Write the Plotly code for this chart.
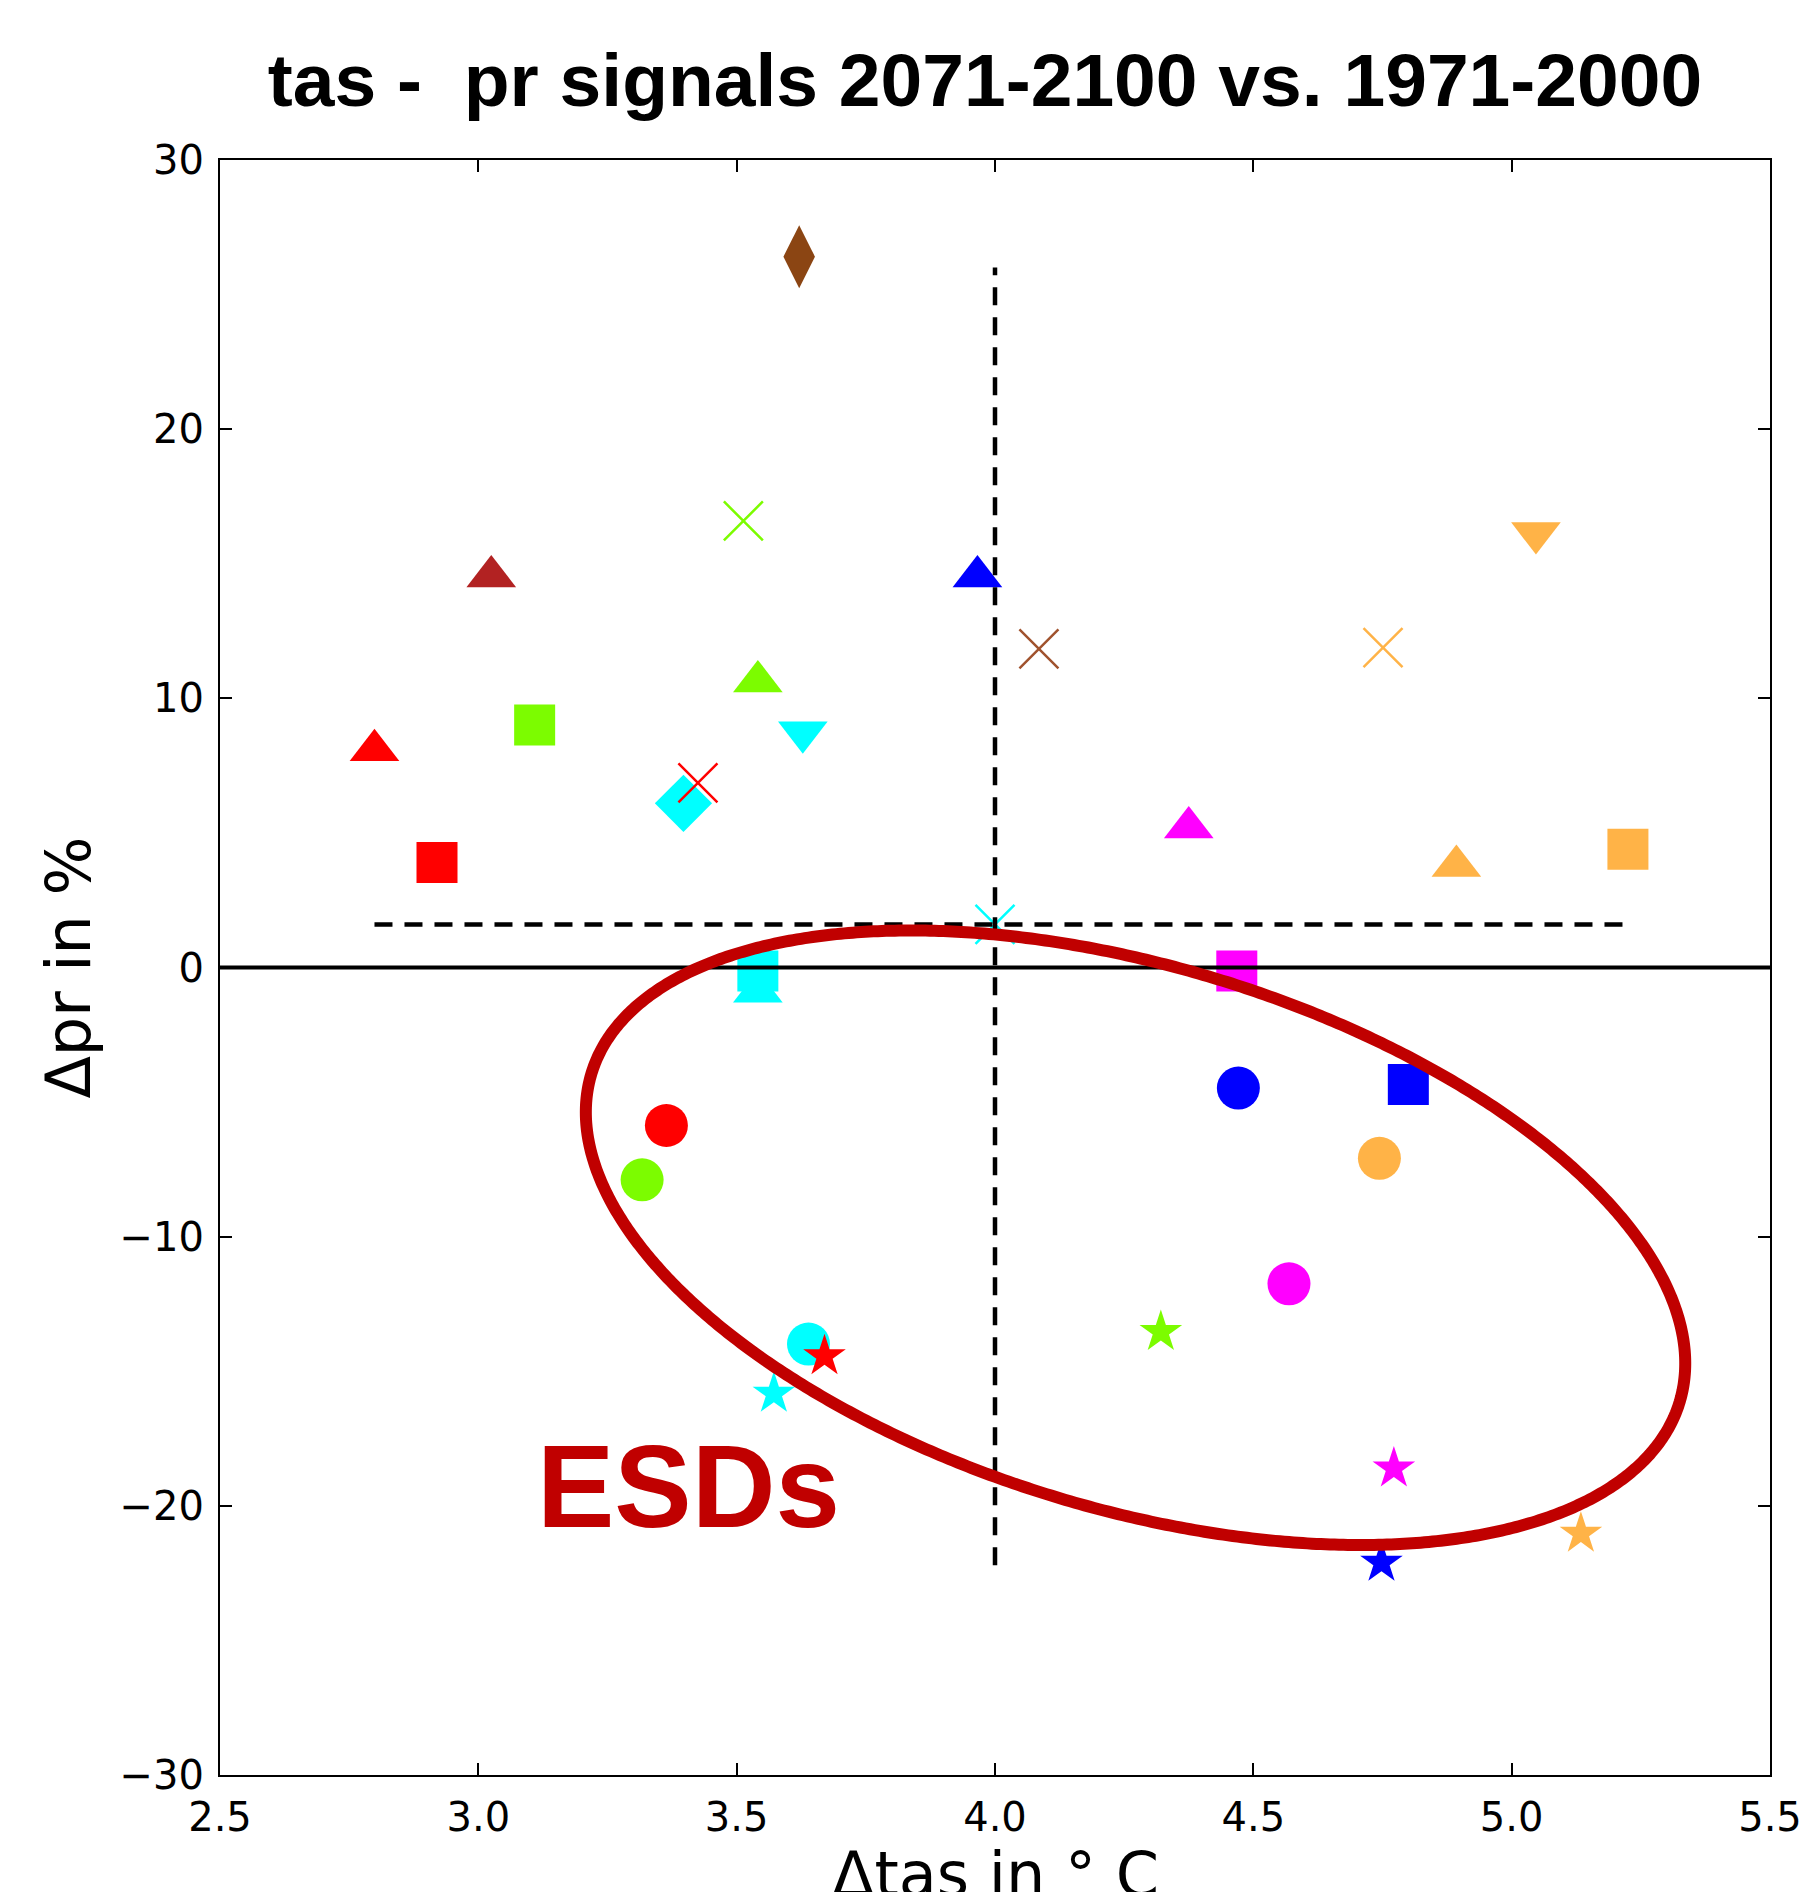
import numpy as np
import plotly.graph_objects as go

# ---------------- data ----------------
circ_x = [3.364, 3.317, 4.471, 4.744, 4.569, 3.639]
circ_y = [-5.87, -7.89, -4.48, -7.09, -11.75, -13.99]
circ_c = ["#FF0000", "#7CFC00", "#0000FF", "#FFB347", "#FF00FF", "#00FFFF"]

sq_x = [2.920, 3.109, 5.225, 4.468, 3.541, 4.800]
sq_y = [3.90, 9.01, 4.39, -0.13, -0.13, -4.35]
sq_c = ["#FF0000", "#7CFC00", "#FFB347", "#FF00FF", "#00FFFF", "#0000FF"]

tu_x = [2.799, 3.025, 3.966, 3.541, 4.375, 4.893, 3.541]
tu_y = [8.07, 14.53, 14.53, 10.63, 5.20, 3.77, -0.90]
tu_c = ["#FF0000", "#B22222", "#0000FF", "#7CFC00", "#FF00FF", "#FFB347", "#00FFFF"]

td_x = [3.628, 5.047]
td_y = [8.74, 16.14]
td_c = ["#00FFFF", "#FFB347"]

star_x = [4.321, 3.670, 3.572, 4.772, 5.134, 4.748]
star_y = [-13.54, -14.44, -15.83, -18.61, -21.03, -22.11]
star_c = ["#7CFC00", "#FF0000", "#00FFFF", "#FF00FF", "#FFB347", "#0000FF"]

cross_x = [3.513, 4.085, 4.751, 3.425]
cross_y = [16.59, 11.84, 11.88, 6.86]
cross_c = ["#7CFC00", "#A0522D", "#FFB347", "#FF0000"]

dthin_x = [3.621]
dthin_y = [26.41]
dthin_c = ["#8B4513"]

dsq_x = [3.397]
dsq_y = [6.10]
dsq_c = ["#00FFFF"]

# ensemble mean (cyan cross at the centre of the dashed lines)
mean_x = [4.00]
mean_y = [1.60]

x_ticks = [2.5, 3.0, 3.5, 4.0, 4.5, 5.0, 5.5]
y_ticks = [-30, -20, -10, 0, 10, 20, 30]

# ellipse that marks the ESDs group (data units, major/minor in x-units)
ell_cx, ell_cy, ell_a, ell_b, ell_angle = 4.272, -10.04, 1.10, 0.525, 16.8

# ---------------- layout geometry ----------------
W, H = 1800, 1892
ML, MR, MT, MB = 220, 30, 160, 117
xr = [2.5, 5.5]
yr = [-30, 30]
pw, ph = W - ML - MR, H - MT - MB
px_per_x = pw / (xr[1] - xr[0])
px_per_y = ph / (yr[1] - yr[0])

fig = go.Figure()

def add_filled(x, y, c, symbol, size):
    fig.add_trace(go.Scatter(x=x, y=y, mode="markers", showlegend=False,
                             marker=dict(symbol=symbol, size=size, color=c,
                                         line=dict(width=0))))

# draw order similar to the original
add_filled(tu_x, tu_y, tu_c, "triangle-up", 43)
add_filled(sq_x, sq_y, sq_c, "square", 41)
add_filled(td_x, td_y, td_c, "triangle-down", 43)
add_filled(circ_x, circ_y, circ_c, "circle", 43)
add_filled(dthin_x, dthin_y, dthin_c, "diamond-tall", 45)
add_filled(dsq_x, dsq_y, dsq_c, "diamond", 44)
add_filled(star_x, star_y, star_c, "star", 32)
fig.add_trace(go.Scatter(x=cross_x, y=cross_y, mode="markers", showlegend=False,
                         marker=dict(symbol="x-thin-open", size=39, color=cross_c,
                                     line=dict(width=2.5, color=cross_c))))
fig.add_trace(go.Scatter(x=mean_x, y=mean_y, mode="markers", showlegend=False,
                         marker=dict(symbol="x-thin-open", size=39, color="#00FFFF",
                                     line=dict(width=2.5, color="#00FFFF"))))

# ranges through the ensemble mean
all_x = circ_x + sq_x + tu_x + td_x + star_x + cross_x + dthin_x + dsq_x
all_y = circ_y + sq_y + tu_y + td_y + star_y + cross_y + dthin_y + dsq_y
dash = "18px,12px"
fig.add_trace(go.Scatter(x=[min(all_x), max(all_x)], y=[mean_y[0], mean_y[0]],
                         mode="lines", showlegend=False,
                         line=dict(color="black", width=4.5, dash=dash)))
fig.add_trace(go.Scatter(x=[mean_x[0], mean_x[0]], y=[min(all_y) - 0.1, max(all_y) - 0.4],
                         mode="lines", showlegend=False,
                         line=dict(color="black", width=4.5, dash=dash)))
# zero line
fig.add_trace(go.Scatter(x=xr, y=[0, 0], mode="lines", showlegend=False,
                         line=dict(color="black", width=4)))

# ellipse (computed in screen-proportional space)
t = np.linspace(0, 2 * np.pi, 720)
th = np.deg2rad(ell_angle)
ratio = px_per_x / px_per_y
ex = ell_cx + ell_a * np.cos(th) * np.cos(t) - ell_b * np.sin(th) * np.sin(t)
ey = ell_cy - ratio * (ell_a * np.sin(th) * np.cos(t) + ell_b * np.cos(th) * np.sin(t))
fig.add_trace(go.Scatter(x=ex, y=ey, mode="lines", showlegend=False,
                         line=dict(color="#C00000", width=12, simplify=False)))

fig.add_annotation(x=3.109, y=-19.3, xref="x", yref="y", text="<b>ESDs</b>",
                   showarrow=False, xanchor="left", yanchor="middle",
                   font=dict(family="Liberation Sans, Arial", size=116, color="#C00000"))

# axis titles as annotations
fig.add_annotation(x=-0.098, y=0.5, xref="paper", yref="paper", text="Δpr in %",
                   textangle=-90, showarrow=False, xanchor="center", yanchor="middle",
                   font=dict(family="DejaVu Sans", size=62, color="black"))
fig.add_annotation(x=0.5, y=-0.038, xref="paper", yref="paper", text="Δtas in \u00b0 C",
                   showarrow=False, xanchor="center", yanchor="top",
                   font=dict(family="DejaVu Sans", size=62, color="black"))

axis_common = dict(showgrid=False, zeroline=False, showline=True, linecolor="black",
                   linewidth=2, mirror="ticks", ticks="inside", ticklen=12,
                   tickwidth=1.5, tickcolor="black", ticklabeloverflow="allow",
                   automargin=False,
                   tickfont=dict(family="DejaVu Sans", size=40, color="black"))

fig.update_layout(
    width=W, height=H,
    margin=dict(l=ML, r=MR, t=MT, b=MB, autoexpand=False),
    paper_bgcolor="white", plot_bgcolor="white",
    title=dict(text="<b>tas -\u00a0\u00a0pr signals 2071-2100 vs. 1971-2000</b>",
               x=985 / W, xanchor="center", y=1 - 80 / H, yanchor="middle",
               font=dict(family="Liberation Sans, Arial", size=75, color="black")),
    xaxis=dict(range=xr, tickvals=x_ticks, ticktext=[f"{v:.1f}" for v in x_ticks],
               ticklabelstandoff=6, **axis_common),
    yaxis=dict(range=yr, tickvals=y_ticks,
               ticktext=[("\u2212" + str(-v)) if v < 0 else str(v) for v in y_ticks],
               ticklabelstandoff=6, **axis_common),
)

# remove the default page margin so the figure fills the window exactly
fig.write_html("out.html",
               config={"displayModeBar": False},
               post_script="document.body.style.margin='0';document.body.style.overflow='hidden';")
